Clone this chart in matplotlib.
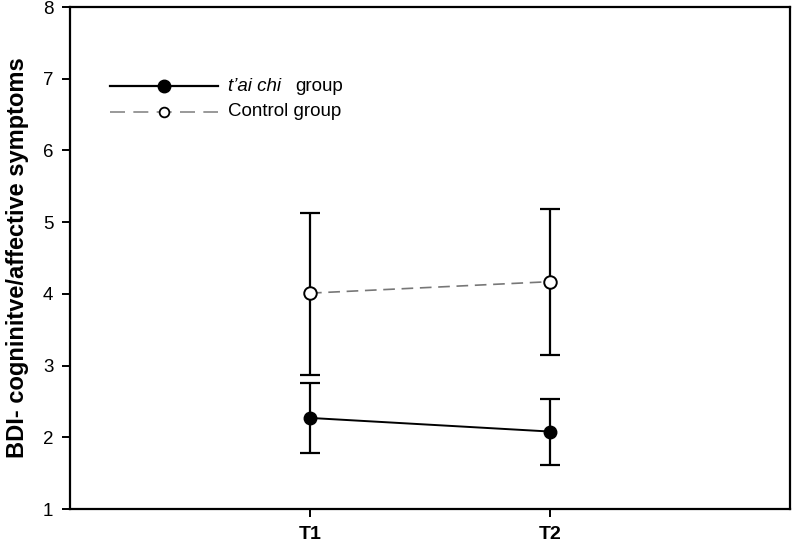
import matplotlib
matplotlib.use("Agg")
import matplotlib.pyplot as plt

plt.rcParams['font.family'] = ['Liberation Sans', 'DejaVu Sans']

# 数据
times = ["T1", "T2"]
x_pos = [1, 2]
taichi_mean = [2.27, 2.08]
taichi_low = [1.78, 1.62]
taichi_high = [2.76, 2.53]
control_mean = [4.01, 4.17]
control_low = [2.87, 3.15]
control_high = [5.13, 5.19]

fig = plt.figure(figsize=(7.92, 5.46), dpi=100)
ax = fig.add_axes([70 / 792, 1 - 509 / 546, 720 / 792, 502 / 546])

# 误差线
tc_err = [[m - l for m, l in zip(taichi_mean, taichi_low)],
          [h - m for m, h in zip(taichi_mean, taichi_high)]]
ct_err = [[m - l for m, l in zip(control_mean, control_low)],
          [h - m for m, h in zip(control_mean, control_high)]]

ax.errorbar(x_pos, control_mean, yerr=ct_err, fmt='none', ecolor='black',
            elinewidth=1.6, capsize=7.5, capthick=1.6, zorder=2)
ax.errorbar(x_pos, taichi_mean, yerr=tc_err, fmt='none', ecolor='black',
            elinewidth=1.6, capsize=7.5, capthick=1.6, zorder=2)

ax.plot(x_pos, control_mean, color='#777777', lw=1.2, dashes=(7, 4), zorder=3)
ax.plot(x_pos, control_mean, ls='none', marker='o', ms=9, mfc='white',
        mec='black', mew=1.4, zorder=4)
ax.plot(x_pos, taichi_mean, color='black', lw=1.4, zorder=3)
ax.plot(x_pos, taichi_mean, ls='none', marker='o', ms=9, mfc='black',
        mec='black', zorder=4)

# 图例（手动绘制）
lx0, lx1, lxm = 0.0556, 0.2056, 0.1306
ly1, ly2 = 0.8426, 0.791
ax.plot([lx0, lx1], [ly1, ly1], color='black', lw=1.6, transform=ax.transAxes, clip_on=False)
ax.plot([lxm], [ly1], marker='o', ms=9, mfc='black', mec='black', transform=ax.transAxes)
ax.plot([lx0, lx1], [ly2, ly2], color='#888888', lw=1.2, dashes=(9, 5), transform=ax.transAxes)
ax.plot([lxm], [ly2], marker='o', ms=7, mfc='white', mec='black', mew=1.3,
        transform=ax.transAxes)
ax.text(0.2195, ly1, "t\u2019ai chi", style='italic', fontsize=13.5, va='center',
        transform=ax.transAxes)
ax.text(0.3125, ly1, "group", fontsize=13.5, va='center', transform=ax.transAxes)
ax.text(0.2195, ly2, "Control group", fontsize=13.5, va='center', transform=ax.transAxes)

# 坐标轴
ax.set_xlim(0, 3)
ax.set_ylim(1, 8)
ax.set_xticks(x_pos)
ax.set_xticklabels(times, fontsize=14, fontweight='bold')
ax.set_yticks(range(1, 9))
ax.tick_params(axis='y', labelsize=13.5, length=6, width=1.4, pad=6)
ax.tick_params(axis='x', length=6, width=1.4, pad=6)
for s in ax.spines.values():
    s.set_linewidth(1.6)
ax.set_ylabel("BDI- cogninitve/affective symptoms", fontsize=17, fontweight='bold',
              labelpad=10)

fig.savefig("out.png", dpi=100)
